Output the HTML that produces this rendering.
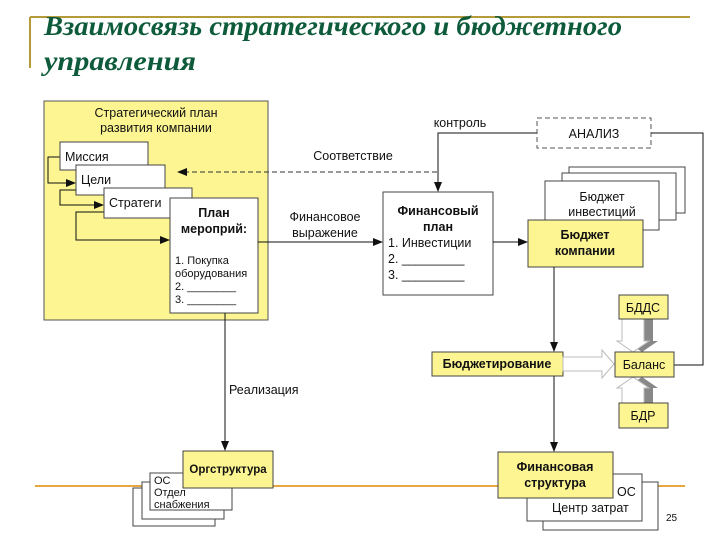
<!DOCTYPE html>
<html><head><meta charset="utf-8"><style>
html,body{margin:0;padding:0;background:#fff;width:720px;height:540px;overflow:hidden}
svg{display:block}
text{font-family:"Liberation Sans",sans-serif;font-size:12.5px;fill:#111}
.b{font-weight:bold}
.t{font-family:"Liberation Serif",serif;font-style:italic;font-weight:bold;font-size:27px;fill:#0d5b3b}
</style></head><body>
<svg width="720" height="540" viewBox="0 0 720 540">
<defs><marker id="a" markerWidth="10" markerHeight="8" refX="9" refY="4" orient="auto" markerUnits="userSpaceOnUse"><path d="M0,0 L10,4 L0,8 z" fill="#111"/></marker></defs>
<line x1="30" y1="17" x2="690" y2="17" stroke="#b59a3a" stroke-width="2"/>
<line x1="30" y1="17" x2="30" y2="68" stroke="#b59a3a" stroke-width="2"/>
<text class="t" x="44" y="35" textLength="578" lengthAdjust="spacingAndGlyphs">Взаимосвязь стратегического и бюджетного</text>
<text class="t" x="44" y="70" textLength="152" lengthAdjust="spacingAndGlyphs">управления</text>
<line x1="35" y1="486" x2="685" y2="486" stroke="#e8a640" stroke-width="2"/>

<rect x="44" y="101" width="224" height="219" fill="#fcf592" stroke="#555"/>
<text x="156" y="117" text-anchor="middle">Стратегический план</text>
<text x="156" y="132" text-anchor="middle">развития компании</text>
<g fill="none" stroke="#111">
<polyline points="60,157 48,157 48,183 75,183" marker-end="url(#a)"/>
<polyline points="76,190 60,190 60,205 103,205" marker-end="url(#a)"/>
<polyline points="104,212 76,212 76,240 169,240" marker-end="url(#a)"/>
</g>
<rect x="60" y="142" width="88" height="28" fill="#fff" stroke="#444"/>
<text x="65" y="161">Миссия</text>
<rect x="76" y="165" width="89" height="30" fill="#fff" stroke="#444"/>
<text x="81" y="184">Цели</text>
<rect x="104" y="188" width="88" height="30" fill="#fff" stroke="#444"/>
<text x="109" y="207">Стратеги</text>
<rect x="170" y="198" width="88" height="115" fill="#fff" stroke="#444"/>
<text x="214" y="217" text-anchor="middle" class="b">План</text>
<text x="214" y="233" text-anchor="middle" class="b">мероприй:</text>
<text x="175" y="264" style="font-size:11px">1. Покупка</text>
<text x="175" y="277" style="font-size:11px">оборудования</text>
<text x="175" y="290" style="font-size:11px">2. ________</text>
<text x="175" y="303" style="font-size:11px">3. ________</text>

<line x1="437" y1="172" x2="178" y2="172" stroke="#333" stroke-dasharray="5,3" marker-end="url(#a)"/>
<text x="353" y="160" text-anchor="middle">Соответствие</text>
<line x1="258" y1="242" x2="382" y2="242" stroke="#111" marker-end="url(#a)"/>
<text x="325" y="221" text-anchor="middle">Финансовое</text>
<text x="325" y="237" text-anchor="middle">выражение</text>
<polyline points="537,133 438,133 438,191" fill="none" stroke="#111" marker-end="url(#a)"/>
<text x="460" y="127" text-anchor="middle">контроль</text>
<polyline points="651,133 703,133 703,365 673,365" fill="none" stroke="#111"/>
<rect x="537" y="118" width="114" height="30" fill="#fff" stroke="#555" stroke-dasharray="5,3"/>
<text x="594" y="138" text-anchor="middle">АНАЛИЗ</text>

<rect x="383" y="192" width="110" height="103" fill="#fff" stroke="#444"/>
<text x="438" y="215" text-anchor="middle" class="b">Финансовый</text>
<text x="438" y="231" text-anchor="middle" class="b">план</text>
<text x="388" y="247">1. Инвестиции</text>
<text x="388" y="263">2. _________</text>
<text x="388" y="279">3. _________</text>
<line x1="493" y1="242" x2="527" y2="242" stroke="#111" marker-end="url(#a)"/>

<rect x="569" y="167" width="116" height="46" fill="#fff" stroke="#444"/>
<rect x="562" y="173" width="114" height="47" fill="#fff" stroke="#444"/>
<rect x="545" y="181" width="114" height="49" fill="#fff" stroke="#444"/>
<text x="602" y="201" text-anchor="middle">Бюджет</text>
<text x="602" y="216" text-anchor="middle">инвестиций</text>
<rect x="528" y="220" width="115" height="47" fill="#fcf592" stroke="#444"/>
<text x="585" y="239" text-anchor="middle" class="b">Бюджет</text>
<text x="585" y="255" text-anchor="middle" class="b">компании</text>
<line x1="554" y1="267" x2="554" y2="351" stroke="#111" marker-end="url(#a)"/>
<line x1="554" y1="376" x2="554" y2="451" stroke="#111" marker-end="url(#a)"/>

<rect x="432" y="352" width="131" height="24" fill="#fcf592" stroke="#444"/>
<text x="497" y="368" text-anchor="middle" class="b">Бюджетирование</text>
<polygon points="563,357 602,357 602,350 614,364 602,378 602,371 563,371" fill="#fff" stroke="#bbb"/>
<polygon points="631,319 631,341 626,341 642,352 658,341 653,341 653,319" fill="#888"/>
<polygon points="622,319 622,341 617,341 633,352 649,341 644,341 644,319" fill="#fff" stroke="#bbb"/>
<polygon points="631,403 631,388 626,388 642,377 658,388 653,388 653,403" fill="#888"/>
<polygon points="622,403 622,388 617,388 633,377 649,388 644,388 644,403" fill="#fff" stroke="#bbb"/>
<rect x="619" y="295" width="49" height="24" fill="#fcf592" stroke="#444"/>
<text x="643" y="312" text-anchor="middle">БДДС</text>
<rect x="615" y="352" width="59" height="25" fill="#fcf592" stroke="#444"/>
<text x="644" y="369" text-anchor="middle">Баланс</text>
<rect x="619" y="403" width="49" height="25" fill="#fcf592" stroke="#444"/>
<text x="643" y="420" text-anchor="middle">БДР</text>

<rect x="543" y="482" width="115" height="48" fill="#fff" stroke="#444"/>
<rect x="527" y="474" width="115" height="47" fill="#fff" stroke="#444"/>
<text x="617" y="496">ОС</text>
<text x="552" y="512">Центр затрат</text>
<rect x="498" y="452" width="115" height="46" fill="#fcf592" stroke="#444"/>
<text x="555" y="471" text-anchor="middle" class="b">Финансовая</text>
<text x="555" y="487" text-anchor="middle" class="b">структура</text>
<text x="666" y="521" style="font-size:10px">25</text>

<line x1="225" y1="313" x2="225" y2="450" stroke="#111" marker-end="url(#a)"/>
<text x="229" y="394">Реализация</text>
<rect x="133" y="488" width="82" height="38" fill="#fff" stroke="#444"/>
<rect x="142" y="482" width="82" height="37" fill="#fff" stroke="#444"/>
<rect x="150" y="473" width="82" height="37" fill="#fff" stroke="#444"/>
<text x="154" y="484" style="font-size:11px">ОС</text>
<text x="154" y="496" style="font-size:11px">Отдел</text>
<text x="154" y="508" style="font-size:11px">снабжения</text>
<rect x="183" y="451" width="90" height="37" fill="#fcf592" stroke="#444"/>
<text x="228" y="473" text-anchor="middle" class="b" style="font-size:11.5px">Оргструктура</text>
</svg>
</body></html>
